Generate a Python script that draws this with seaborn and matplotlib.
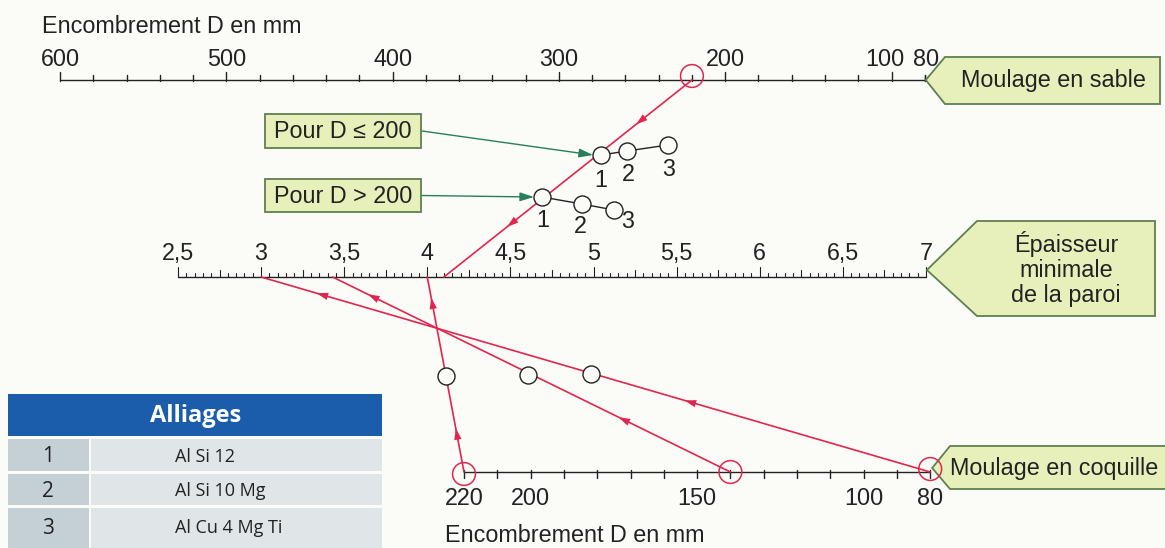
import numpy as np
import pandas as pd
import matplotlib
matplotlib.use("Agg")
import matplotlib.pyplot as plt
from matplotlib.patches import Polygon, Rectangle
import seaborn as sns

# ---------------- data ----------------
# Top scale : encombrement D (moulage en sable)
sand_ticks = list(range(600, 79, -20))
sand_labels = [600, 500, 400, 300, 200, 100, 80]
# Middle scale : épaisseur minimale de la paroi (mm)
wall_labels = [2.5, 3, 3.5, 4, 4.5, 5, 5.5, 6, 6.5, 7]
# Bottom scale : encombrement D (moulage en coquille)
shell_ticks = list(range(220, 79, -10))
shell_labels = [220, 200, 150, 100, 80]
# Worked examples
sand_example_D = [220]
sand_example_e = [4.1]
shell_example_D = [220, 140, 80]
shell_example_e = [4.0, 3.43, 3.0]
# Alloys table
alloy_ids = ["1", "2", "3"]
alloy_names = ["Al Si 12", "Al Si 10 Mg", "Al Cu 4 Mg Ti"]

# ---------------- layout ----------------
W, H = 1165, 548
Y_TOP, Y_MID, Y_BOT = 80, 277, 472
RED = "#e0264f"
BOXFILL = "#e7f0bb"
BOXEDGE = "#5f8050"
GREEN = "#2a7d5c"
FONT = ["Liberation Sans", "DejaVu Sans"]
FS = 16.8
TFONT = ["Open Sans", "DejaVu Sans"]


def top_x(D):
    return 60 + (600 - np.asarray(D, float)) * 1.663


def mid_x(e):
    return 178 + (np.asarray(e, float) - 2.5) * 166.2


def bot_x(D):
    return 464 + (220 - np.asarray(D, float)) * 3.33


sns.set_theme(style="white")
plt.rcParams["font.family"] = FONT

fig = plt.figure(figsize=(W / 100, H / 100), dpi=100)
fig.patch.set_facecolor("#fbfbf8")
ax = fig.add_axes([0, 0, 1, 1])
ax.set_xlim(0, W)
ax.set_ylim(H, 0)
ax.axis("off")

LW = 1.0

# ---- top scale ----
ax.plot([top_x(600), top_x(80)], [Y_TOP, Y_TOP], color="#222", lw=LW)
for d in sand_ticks + [80]:
    L = 8 if d % 100 == 0 else 5
    ax.plot([top_x(d)] * 2, [Y_TOP + 1, Y_TOP - L], color="#222", lw=LW)
for d in sand_labels:
    xx = float(top_x(d))
    if d == 100:
        xx -= 7
    if d == 80:
        xx += 1
    ax.text(xx, Y_TOP - 14, str(d), fontsize=FS, ha="center", va="baseline", color="#222")
ax.text(42, 33, "Encombrement D en mm", fontsize=FS, ha="left", va="baseline", color="#222")

# ---- middle scale ----
ax.plot([mid_x(2.5), mid_x(7)], [Y_MID, Y_MID], color="#222", lw=LW)
for i in range(0, 91):
    e = 2.5 + i * 0.05
    if i % 10 == 0:
        L = 10
    elif i % 5 == 0:
        L = 7
    else:
        L = 4
    ax.plot([mid_x(e)] * 2, [Y_MID, Y_MID - L], color="#222", lw=0.8)
for e in wall_labels:
    s = ("%g" % e).replace(".", ",")
    ax.text(mid_x(e), Y_MID - 17, s, fontsize=FS, ha="center", va="baseline", color="#222")

# ---- bottom scale ----
ax.plot([bot_x(220), bot_x(80)], [Y_BOT, Y_BOT], color="#222", lw=LW)
for d in shell_ticks:
    ax.plot([bot_x(d)] * 2, [Y_BOT - 2, Y_BOT + 6], color="#222", lw=LW)
for d in shell_labels:
    ax.text(bot_x(d), Y_BOT + 33, str(d), fontsize=FS, ha="center", va="baseline", color="#222")
ax.text(445, 542, "Encombrement D en mm", fontsize=FS, ha="left", va="baseline", color="#222")


# ---- label boxes (pentagon arrows) ----
def pent(tip_x, tip_y, x1, x2, y1, y2):
    p = Polygon([[tip_x, tip_y], [x1, y1], [x2, y1], [x2, y2], [x1, y2]],
                closed=True, facecolor=BOXFILL, edgecolor=BOXEDGE, lw=1.3, zorder=3)
    ax.add_patch(p)


pent(top_x(80) + 1, Y_TOP, 945, 1160, 57, 104)
ax.text(1053, 80, "Moulage en sable", fontsize=FS, ha="center", va="center", color="#222", zorder=4)
pent(mid_x(7) + 1, Y_MID - 7, 977, 1155, 221, 316)
ax.text(1066, 269, "Épaisseur\nminimale\nde la paroi", fontsize=FS, ha="center", va="center",
        color="#222", linespacing=1.12, zorder=4)
pent(bot_x(80) + 2, Y_BOT - 4, 950, 1166, 446, 489)
ax.text(950, 468, "Moulage en coquille", fontsize=FS, ha="left", va="center", color="#222", zorder=4)


# ---- red reading lines ----
def arrowhead(p0, p1, t):
    p0 = np.asarray(p0, float)
    p1 = np.asarray(p1, float)
    d = (p1 - p0) / np.linalg.norm(p1 - p0)
    c = p0 + (p1 - p0) * t
    ax.annotate("", xy=c + d * 5, xytext=c - d * 3,
                arrowprops=dict(arrowstyle="-|>,head_length=0.7,head_width=0.22",
                                color=RED, lw=0, shrinkA=0, shrinkB=0), zorder=5)


sand_start = (float(top_x(sand_example_D[0])), Y_TOP)
sand_end = (float(mid_x(sand_example_e[0])), Y_MID)
sns.lineplot(x=[sand_start[0], sand_end[0]], y=[sand_start[1], sand_end[1]], sort=False,
             color=RED, lw=1.2, ax=ax, zorder=4)
arrowhead(sand_start, sand_end, 0.21)
arrowhead(sand_start, sand_end, 0.73)

arrow_t = {220: (0.2, 0.87), 140: (0.27, 0.9), 80: (0.36, 0.91)}
for D, e in zip(shell_example_D, shell_example_e):
    p0 = (float(bot_x(D)), Y_BOT)
    p1 = (float(mid_x(e)), Y_MID)
    sns.lineplot(x=[p0[0], p1[0]], y=[p0[1], p1[1]], sort=False, color=RED, lw=1.2, ax=ax, zorder=4)
    for t in arrow_t[D]:
        arrowhead(p0, p1, t)

# red circles on the D scales
red_pts = pd.DataFrame({
    "x": [float(top_x(sand_example_D[0]))] + [float(v) for v in bot_x(shell_example_D)],
    "y": [Y_TOP - 4] + [Y_BOT + 2, Y_BOT, Y_BOT - 3],
})
sns.scatterplot(data=red_pts, x="x", y="y", s=270, facecolors="none", edgecolor=RED,
                linewidth=1.1, ax=ax, zorder=6, legend=False)

# ---- alloy points (pivot positions) ----
le200 = pd.DataFrame({"x": [601, 627, 668], "y": [155, 151, 145]})
gt200 = pd.DataFrame({"x": [542, 582, 614], "y": [197, 204, 210]})
for df in (le200, gt200):
    ax.plot(df["x"], df["y"], color="#222", lw=1.0, zorder=6)
    sns.scatterplot(data=df, x="x", y="y", s=150, color="#fbfbf8", edgecolor="#222",
                    linewidth=1.0, ax=ax, zorder=7, legend=False)
for (x, y), lab in zip(zip([601, 628, 669], [187, 181, 176]), alloy_ids):
    ax.text(x, y, lab, fontsize=FS, ha="center", va="baseline", color="#222")
for (x, y), lab in zip(zip([543, 580, 628], [227, 233, 228]), alloy_ids):
    ax.text(x, y, lab, fontsize=FS, ha="center", va="baseline", color="#222")

# pivot circles on coquille lines
piv = pd.DataFrame({"x": [446, 528, 591], "y": [376, 375, 374]})
sns.scatterplot(data=piv, x="x", y="y", s=150, color="#fbfbf8", edgecolor="#222",
                linewidth=1.0, ax=ax, zorder=7, legend=False)

# ---- "Pour D" boxes with green arrows ----
for (y0, y1, txt, target) in [(114, 148, "Pour D ≤ 200", (593, 155)),
                              (179, 212, "Pour D > 200", (534, 197))]:
    ax.add_patch(Rectangle((265, y0), 156, y1 - y0, facecolor=BOXFILL, edgecolor=BOXEDGE,
                           lw=1.3, zorder=3))
    ax.text(343, (y0 + y1) / 2 + 1, txt, fontsize=FS, ha="center", va="center", color="#222", zorder=4)
    ax.annotate("", xy=target, xytext=(422, (y0 + y1) / 2),
                arrowprops=dict(arrowstyle="-|>,head_length=0.7,head_width=0.22", color=GREEN,
                                lw=1.0, shrinkA=0, shrinkB=0), zorder=5)

# ---- alloys table ----
BLUE = "#1b5dab"
ax.add_patch(Rectangle((8, 394), 374, 42, facecolor=BLUE, edgecolor="none", zorder=2))
ax.text(196, 416, "Alliages", fontsize=17, fontweight="bold", color="white", ha="center",
        va="center", family=TFONT, zorder=3)
rows_y = [(439, 471), (474, 505), (508, 548)]
for (ya, yb), i, name in zip(rows_y, alloy_ids, alloy_names):
    yc = (ya + min(yb, 544)) / 2 + 2
    ax.add_patch(Rectangle((8, ya), 81, yb - ya, facecolor="#c5d0d4", edgecolor="none", zorder=2))
    ax.add_patch(Rectangle((91, ya), 291, yb - ya, facecolor="#e0e6e8", edgecolor="none", zorder=2))
    ax.text(48, yc, i, fontsize=15, ha="center", va="center", color="#222", family=TFONT, zorder=3)
    ax.text(175, yc, name, fontsize=13, ha="left", va="center", color="#222", family=TFONT, zorder=3)

fig.savefig("out.png", dpi=100, facecolor=fig.get_facecolor())
